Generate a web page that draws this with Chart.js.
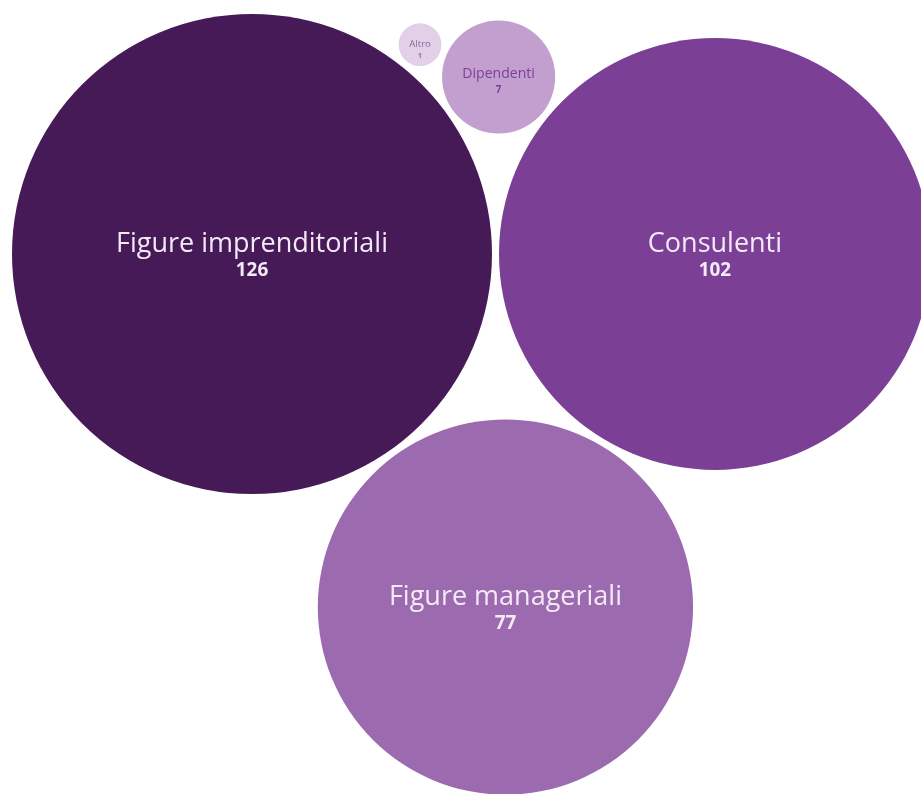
<!DOCTYPE html>
<html>
<head>
<meta charset="utf-8">
<script src="https://cdn.jsdelivr.net/npm/chart.js@4"></script>
<style>
  html, body { margin: 0; padding: 0; background: #fff; }
  #wrap { width: 921px; height: 794px; position: relative; }
</style>
</head>
<body>
<div id="wrap"><canvas id="bubbleChart"></canvas></div>
<script>
const categories = ['Figure imprenditoriali', 'Consulenti', 'Figure manageriali', 'Dipendenti', 'Altro'];
const values = [126, 102, 77, 7, 1];

const fillColors = ['#461957', '#7c3f96', '#9c6aae', '#c29fcf', '#e2d0e8'];
const textColors = ['#f4eaf6', '#f4eaf6', '#f4eaf6', '#7c3f96', '#8a6a98'];

// radius grows with sqrt(value), circles packed with a small gap
const scaleK = 240 / Math.sqrt(126);
const gap = 7;
const radii = values.map(v => scaleK * Math.sqrt(v));

// circle tangent to a and b (plus gap), side = +1 / -1
function tangentTo(a, b, r, side) {
    const dx = b.x - a.x, dy = b.y - a.y;
    const dAB = Math.hypot(dx, dy);
    const dA = a.r + r + gap, dB = b.r + r + gap;
    const cosA = (dAB * dAB + dA * dA - dB * dB) / (2 * dAB * dA);
    const ang = Math.atan2(dy, dx) + side * Math.acos(cosA);
    return { x: a.x + dA * Math.cos(ang), y: a.y + dA * Math.sin(ang), r: r };
}

function packCircles() {
    const c0 = { x: 0, y: 0, r: radii[0] };
    const c1 = { x: radii[0] + radii[1] + gap, y: 0, r: radii[1] };
    const c2 = tangentTo(c0, c1, radii[2], 1);
    const c3 = tangentTo(c0, c1, radii[3], -1);
    const c4 = tangentTo(c0, c3, radii[4], -1);
    const all = [c0, c1, c2, c3, c4];
    const minX = Math.min(...all.map(c => c.x - c.r));
    const minY = Math.min(...all.map(c => c.y - c.r));
    return all.map(c => ({ x: c.x - minX + 12, y: c.y - minY + 14, r: c.r }));
}

const packed = packCircles();

function labelSize(r) { return Math.min(27, 7 + r * 0.125); }

// --- labels inside bubbles ---
const bubbleLabels = {
    id: 'bubbleLabels',
    afterDatasetsDraw(chart) {
        const ctx = chart.ctx;
        const meta = chart.getDatasetMeta(0);
        meta.data.forEach((el, i) => {
            const r = radii[i];
            const fs = labelSize(r);
            const base = el.y + 5 - 0.27 * fs;
            ctx.save();
            ctx.fillStyle = textColors[i];
            ctx.textAlign = 'center';
            ctx.textBaseline = 'alphabetic';
            ctx.font = `400 ${fs}px "Open Sans", sans-serif`;
            ctx.fillText(categories[i], el.x, base);
            ctx.font = `700 ${fs * 0.7}px "Open Sans", sans-serif`;
            ctx.fillText(String(values[i]), el.x, base + fs * 0.75 + 4);
            ctx.restore();
        });
    }
};

new Chart(document.getElementById('bubbleChart'), {
    type: 'bubble',
    data: {
        labels: categories,
        datasets: [{
            data: values.map((v, i) => ({ x: packed[i].x, y: packed[i].y, r: radii[i] })),
            backgroundColor: fillColors,
            hoverBackgroundColor: fillColors,
            borderWidth: 0,
            hoverBorderWidth: 0,
            clip: false
        }]
    },
    options: {
        responsive: true,
        maintainAspectRatio: false,
        animation: false,
        layout: { padding: 0, autoPadding: false },
        plugins: { legend: { display: false }, tooltip: { enabled: false } },
        scales: {
            x: { type: 'linear', min: 0, max: 921, display: false },
            y: { type: 'linear', min: 0, max: 794, reverse: true, display: false }
        }
    },
    plugins: [bubbleLabels]
});
</script>
</body>
</html>
